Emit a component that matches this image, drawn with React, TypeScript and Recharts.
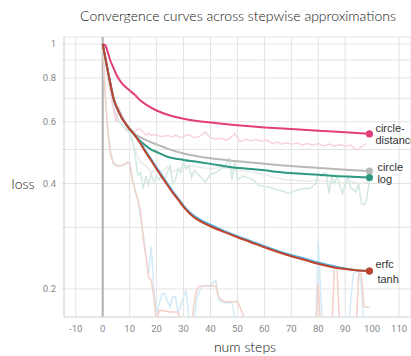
import { LineChart, Line, XAxis, YAxis, CartesianGrid, ReferenceLine } from 'recharts';

// Smoothed loss curves, [step, loss]
const circleDistance: [number, number][] = [
  [0, 1], [1, 0.99], [2, 0.94], [3, 0.89], [4, 0.855], [5, 0.82], [6, 0.795], [7, 0.775], [8, 0.76],
  [9, 0.748], [10, 0.737], [12, 0.715], [14, 0.69], [17, 0.665], [20, 0.646], [25, 0.625], [30, 0.612],
  [35, 0.603], [40, 0.597], [45, 0.591], [50, 0.586], [60, 0.578], [70, 0.572], [80, 0.566], [90, 0.56],
  [99, 0.554],
];
const circle: [number, number][] = [
  [0, 1], [1, 0.91], [2, 0.83], [3, 0.76], [4, 0.7], [5, 0.665], [6, 0.64], [7, 0.617], [8, 0.6],
  [9, 0.585], [10, 0.572], [12, 0.553], [15, 0.537], [18, 0.524], [20, 0.517], [24, 0.503], [30, 0.487],
  [36, 0.477], [40, 0.472], [50, 0.463], [60, 0.455], [67, 0.45], [80, 0.443], [90, 0.438], [99, 0.434],
];
const logCurve: [number, number][] = [
  [0, 1], [1, 0.91], [2, 0.83], [3, 0.76], [4, 0.7], [5, 0.665], [6, 0.64], [7, 0.617], [8, 0.6],
  [9, 0.585], [10, 0.572], [12, 0.548], [15, 0.52], [18, 0.5], [20, 0.492], [24, 0.477], [30, 0.467],
  [36, 0.46], [40, 0.455], [47, 0.446], [55, 0.44], [60, 0.436], [67, 0.43], [75, 0.426], [85, 0.421],
  [99, 0.416],
];
const erfc: [number, number][] = [
  [0, 1], [1, 0.91], [2, 0.83], [3, 0.76], [4, 0.7], [5, 0.665], [6, 0.64], [7, 0.617], [8, 0.6],
  [9, 0.585], [10, 0.572], [12, 0.549], [14, 0.523], [16, 0.494], [18, 0.469], [20, 0.444], [22, 0.421],
  [24, 0.4], [26, 0.38], [28, 0.363], [30, 0.346], [32, 0.333], [34, 0.323], [37, 0.313], [40, 0.305],
  [45, 0.293], [50, 0.283], [55, 0.274], [60, 0.265], [65, 0.257], [70, 0.25], [75, 0.244], [80, 0.238],
  [85, 0.233], [90, 0.229], [95, 0.226], [99, 0.225],
];
const tanh: [number, number][] = [
  [0, 1], [1, 0.91], [2, 0.83], [3, 0.76], [4, 0.7], [5, 0.665], [6, 0.64], [7, 0.617], [8, 0.6],
  [9, 0.585], [10, 0.572], [12, 0.548], [14, 0.52], [16, 0.49], [18, 0.465], [20, 0.44], [22, 0.417],
  [24, 0.396], [26, 0.376], [28, 0.36], [30, 0.343], [32, 0.33], [34, 0.32], [37, 0.31], [40, 0.302],
  [45, 0.291], [50, 0.281], [55, 0.272], [60, 0.263], [65, 0.255], [70, 0.248], [75, 0.242], [80, 0.236],
  [85, 0.231], [90, 0.228], [95, 0.226], [99, 0.225],
];

// Raw (unsmoothed) losses, faint in the background
const circleDistanceRaw: [number, number][] = [
  [0, 1], [2, 0.8], [4, 0.65], [5, 0.6], [6, 0.66], [7, 0.63], [8, 0.61], [9, 0.59], [10, 0.575],
  [11, 0.565], [12, 0.562], [13, 0.572], [14, 0.57], [15, 0.562], [16, 0.55], [17, 0.556], [18, 0.548],
  [19, 0.552], [20, 0.55], [22, 0.544], [24, 0.548], [26, 0.542], [27, 0.55], [29, 0.54], [31, 0.548],
  [32, 0.552], [34, 0.54], [36, 0.545], [38, 0.562], [40, 0.54], [42, 0.535], [44, 0.538], [46, 0.532],
  [48, 0.545], [49, 0.556], [51, 0.526], [53, 0.535], [55, 0.53], [57, 0.534], [59, 0.528], [61, 0.532],
  [63, 0.52], [65, 0.525], [66, 0.518], [68, 0.523], [70, 0.518], [72, 0.522], [74, 0.515], [76, 0.52],
  [78, 0.514], [80, 0.52], [82, 0.512], [84, 0.518], [86, 0.512], [88, 0.517], [90, 0.512], [92, 0.515],
  [94, 0.5], [95, 0.5], [96, 0.51], [98, 0.52],
];
const circleRaw: [number, number][] = [
  [0, 1], [2, 0.8], [4, 0.67], [6, 0.6], [8, 0.575], [10, 0.555], [12, 0.5], [14, 0.46], [16, 0.45],
  [18, 0.43], [20, 0.44], [22, 0.432], [24, 0.445], [26, 0.43], [28, 0.44], [30, 0.445], [33, 0.45],
  [36, 0.445], [40, 0.44], [44, 0.445], [48, 0.44], [52, 0.435], [56, 0.43], [60, 0.425], [64, 0.415],
  [68, 0.41], [72, 0.408], [76, 0.405], [80, 0.41], [84, 0.405], [88, 0.4], [92, 0.405], [96, 0.4],
  [99, 0.405],
];
const logRaw: [number, number][] = [
  [0, 1], [2, 0.8], [4, 0.66], [6, 0.6], [8, 0.58], [10, 0.56], [11, 0.53], [12, 0.487], [13, 0.422],
  [14, 0.43], [15, 0.387], [16, 0.42], [17, 0.396], [18, 0.425], [19, 0.405], [20, 0.42], [21, 0.41],
  [22, 0.425], [23, 0.41], [25, 0.45], [26, 0.4], [27, 0.41], [28, 0.44], [29, 0.43], [30, 0.46],
  [31, 0.44], [32, 0.45], [33, 0.414], [34, 0.436], [36, 0.42], [38, 0.404], [40, 0.425], [42, 0.43],
  [44, 0.44], [46, 0.456], [47, 0.471], [48, 0.41], [49, 0.465], [50, 0.41], [52, 0.42], [54, 0.415],
  [56, 0.409], [58, 0.395], [60, 0.392], [62, 0.39], [65, 0.383], [67, 0.38], [69, 0.374], [72, 0.383],
  [75, 0.387], [77, 0.387], [79, 0.4], [80, 0.427], [81, 0.42], [82, 0.428], [83, 0.427], [84, 0.374],
  [85, 0.42], [86, 0.4], [87, 0.42], [89, 0.374], [90, 0.4], [91, 0.418], [92, 0.39], [94, 0.378],
  [95, 0.4], [96, 0.35], [97, 0.347], [98, 0.36], [99, 0.41],
];
const erfcRaw: [number, number][] = [
  [0, 1], [1, 0.7], [2, 0.56], [3, 0.49], [4, 0.46], [5, 0.452], [6, 0.45], [8, 0.452], [10, 0.46],
  [11, 0.41], [13, 0.36], [15, 0.29], [16, 0.25], [17, 0.22], [18, 0.264], [19, 0.2], [20, 0.17],
  [22, 0.194], [23, 0.194], [24, 0.185], [25, 0.178], [26, 0.19], [27, 0.19], [28, 0.17], [30, 0.19],
  [31, 0.198], [32, 0.165], [34, 0.165], [35, 0.19], [37, 0.204], [40, 0.205], [42, 0.212], [43, 0.186],
  [45, 0.183], [48, 0.182], [49, 0.165], [50, 0.15], [79, 0.15], [80, 0.272], [81, 0.186], [82, 0.15],
  [91, 0.15], [93, 0.221], [95, 0.226], [96, 0.203], [97, 0.15], [99, 0.15],
];
const tanhRaw: [number, number][] = [
  [0, 1], [1, 0.7], [2, 0.55], [3, 0.48], [4, 0.455], [5, 0.45], [6, 0.448], [7, 0.45], [8, 0.452],
  [9, 0.46], [10, 0.458], [11, 0.41], [12, 0.383], [13, 0.36], [14, 0.335], [15, 0.28], [16, 0.25],
  [17, 0.216], [18, 0.212], [19, 0.19], [20, 0.16], [21, 0.174], [25, 0.172], [28, 0.172], [29, 0.16],
  [33, 0.16], [34, 0.185], [35, 0.2], [36, 0.204], [42, 0.204], [43, 0.19], [45, 0.184], [50, 0.184],
  [52, 0.17], [53, 0.15], [79, 0.15], [80, 0.207], [81, 0.15], [85, 0.15], [86, 0.23], [87, 0.23],
  [88, 0.15], [94, 0.15], [95, 0.221], [96, 0.221], [97, 0.178], [99, 0.177],
];

const xTicks = [-10, 0, 10, 20, 30, 40, 50, 60, 70, 80, 90, 100, 110];
const yTicks = [0.2, 0.3, 0.4, 0.5, 0.6, 0.7, 0.8, 0.9, 1];
const yLabelled = [0.2, 0.4, 0.6, 0.8, 1];

const toRows = (s: [number, number][]) => s.map(([step, loss]) => ({ step, loss }));

const LABEL_FONT = '"Liberation Sans", Arial, sans-serif';
const TITLE_FONT = 'Lato, sans-serif';

type EndLabel = { text: string; dx: number; dy: number };

function endDot(color: string, labels: EndLabel[]) {
  return (props: any) => {
    const { cx, cy, payload, index } = props;
    if (!payload || payload.step !== 99) return <g key={`d${index}`} />;
    return (
      <g key={`d${index}`}>
        <circle cx={cx} cy={cy} r={3.6} fill={color} />
        {labels.map((l) => (
          <text key={l.text} x={cx + l.dx} y={cy + l.dy} fontSize={11} fill="#333" fontFamily={LABEL_FONT}>
            {l.text}
          </text>
        ))}
      </g>
    );
  };
}

const C_DIST = '#e23f78';
const C_CIRCLE = '#b9b9b9';
const C_LOG = '#2e9880';
const C_ERFC = '#4db2e4';
const C_TANH = '#c0442c';

export default function App() {
  const raw = (data: [number, number][], color: string, key: string) => (
    <Line
      key={key}
      data={toRows(data)}
      dataKey="loss"
      type="linear"
      stroke={color}
      strokeWidth={1.5}
      dot={false}
      activeDot={false}
      isAnimationActive={false}
    />
  );

  const axisTitle = {
    position: 'absolute' as const, transform: 'translateX(-50%)', whiteSpace: 'nowrap' as const,
    fontFamily: TITLE_FONT, fontSize: 14, lineHeight: '17px', color: '#111', fontWeight: 300,
  };

  return (
    <div style={{ position: 'absolute', left: 0, top: 0, width: 411, height: 356, overflow: 'hidden', background: '#fff' }}>
      <LineChart width={411} height={356} margin={{ top: 37, right: 0, bottom: 0, left: 0 }}>
        <CartesianGrid stroke="#e3e3e3" />
        <XAxis
          type="number"
          dataKey="step"
          domain={[-14.37, 114.43]}
          ticks={xTicks}
          allowDataOverflow
          height={39}
          tickLine={false}
          axisLine={{ stroke: '#dcdcdc' }}
          tick={{ fontSize: 9.5, fill: '#888', fontFamily: 'Roboto, sans-serif' }}
        />
        <YAxis
          type="number"
          scale="log"
          domain={[0.1664, 1.047]}
          ticks={yTicks}
          allowDataOverflow
          width={64}
          tickSize={2}
          tickMargin={6}
          tickLine={{ stroke: '#dcdcdc' }}
          axisLine={{ stroke: '#dcdcdc' }}
          tickFormatter={(v: number) => (yLabelled.includes(v) ? String(v) : '')}
          tick={{ fontSize: 9.5, fill: '#888', fontFamily: 'Roboto, sans-serif' }}
        />
        <ReferenceLine x={0} stroke="#b0b0b0" strokeWidth={2} />
        {raw(circleRaw, '#ebebeb', 'circleRaw')}
        {raw(logRaw, '#d3e8e2', 'logRaw')}
        {raw(circleDistanceRaw, '#f7d3df', 'distRaw')}
        {raw(erfcRaw, '#d3ebf8', 'erfcRaw')}
        {raw(tanhRaw, '#f3d0c8', 'tanhRaw')}
        <Line
          data={toRows(circleDistance)}
          dataKey="loss"
          type="monotone"
          stroke={C_DIST}
          strokeWidth={2}
          dot={endDot(C_DIST, [
            { text: 'circle-', dx: 6, dy: -2 },
            { text: 'distance', dx: 6, dy: 10.5 },
          ])}
          activeDot={false}
          isAnimationActive={false}
        />
        <Line
          data={toRows(circle)}
          dataKey="loss"
          type="monotone"
          stroke={C_CIRCLE}
          strokeWidth={2}
          dot={endDot(C_CIRCLE, [{ text: 'circle', dx: 8, dy: 0 }])}
          activeDot={false}
          isAnimationActive={false}
        />
        <Line
          data={toRows(logCurve)}
          dataKey="loss"
          type="monotone"
          stroke={C_LOG}
          strokeWidth={2}
          dot={endDot(C_LOG, [{ text: 'log', dx: 8, dy: 5 }])}
          activeDot={false}
          isAnimationActive={false}
        />
        <Line
          data={toRows(erfc)}
          dataKey="loss"
          type="monotone"
          stroke={C_ERFC}
          strokeWidth={2}
          dot={endDot(C_ERFC, [{ text: 'erfc', dx: 6, dy: -3 }])}
          activeDot={false}
          isAnimationActive={false}
        />
        <Line
          data={toRows(tanh)}
          dataKey="loss"
          type="monotone"
          stroke={C_TANH}
          strokeWidth={2}
          dot={endDot(C_TANH, [{ text: 'tanh', dx: 8, dy: 11.5 }])}
          activeDot={false}
          isAnimationActive={false}
        />
      </LineChart>
      <div style={{ ...axisTitle, left: 238, top: 7 }}>
        Convergence curves across stepwise approximations
      </div>
      <div style={{ ...axisTitle, left: 23, top: 175 }}>loss</div>
      <div style={{ ...axisTitle, left: 245, top: 338 }}>num steps</div>
    </div>
  );
}
